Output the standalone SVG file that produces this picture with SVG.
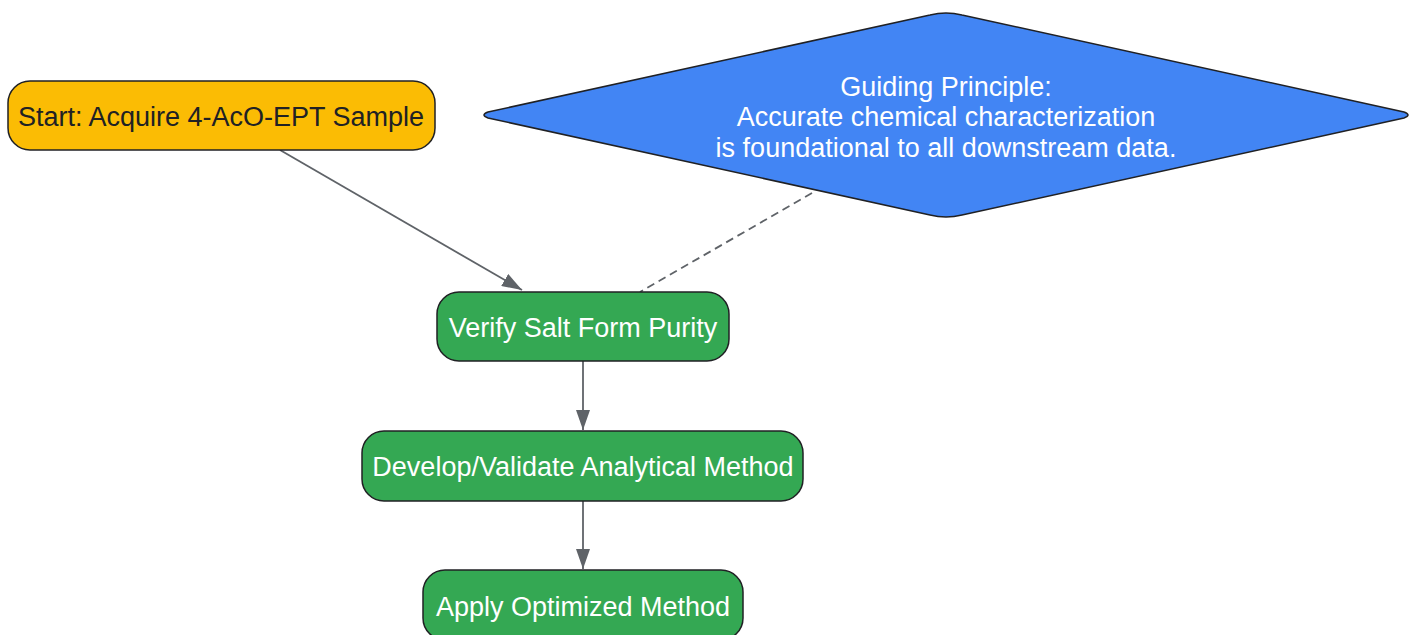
<svg xmlns="http://www.w3.org/2000/svg" width="1418" height="635" viewBox="0 0 1418 635">
<style>
.node{stroke:#202124;stroke-width:1.5}
.t{font-family:"Liberation Sans",Arial,sans-serif;font-size:27px;text-anchor:middle;dominant-baseline:central}
.w{fill:#ffffff}
.d{fill:#202124}
.e{stroke:#5f6368;stroke-width:1.8;fill:none}
</style>
<defs>
<marker id="arr" viewBox="0 0 20 14" refX="20" refY="7" markerWidth="20" markerHeight="14" markerUnits="userSpaceOnUse" orient="auto">
<path d="M0,0 L20,7 L0,14 z" fill="#5f6368"/>
</marker>
</defs>
<rect width="1418" height="635" fill="#ffffff"/>
<g id="connectors">
<path class="e" d="M280,150 L522,290" marker-end="url(#arr)"/>
<path class="e" d="M812,193 L640,292" stroke-dasharray="8,5"/>
<path class="e" d="M583,361 L583,430" marker-end="url(#arr)"/>
<path class="e" d="M583,501 L583,569" marker-end="url(#arr)"/>
</g>
<g id="start">
<rect class="node" x="8" y="81" width="427" height="69" rx="22" fill="#fbbc04"/>
<text class="t d" x="221" y="117">Start: Acquire 4-AcO-EPT Sample</text>
</g>
<g id="principle">
<path class="node" fill="#4285f4" d="M488,112 L930,15 Q946,11 962,15 L1404,112 Q1412,115 1404,118 L962,215 Q946,219 930,215 L488,118 Q480,115 488,112 Z"/>
<text class="t w" x="946" y="87">Guiding Principle:</text>
<text class="t w" x="946" y="117">Accurate chemical characterization</text>
<text class="t w" x="946" y="148">is foundational to all downstream data.</text>
</g>
<g id="verify">
<rect class="node" x="437" y="292" width="292" height="69" rx="22" fill="#34a853"/>
<text class="t w" x="583" y="328">Verify Salt Form Purity</text>
</g>
<g id="develop">
<rect class="node" x="362" y="431" width="441" height="70" rx="22" fill="#34a853"/>
<text class="t w" x="583" y="467">Develop/Validate Analytical Method</text>
</g>
<g id="apply">
<rect class="node" x="423" y="570" width="320" height="70" rx="22" fill="#34a853"/>
<text class="t w" x="583" y="607">Apply Optimized Method</text>
</g>
</svg>
